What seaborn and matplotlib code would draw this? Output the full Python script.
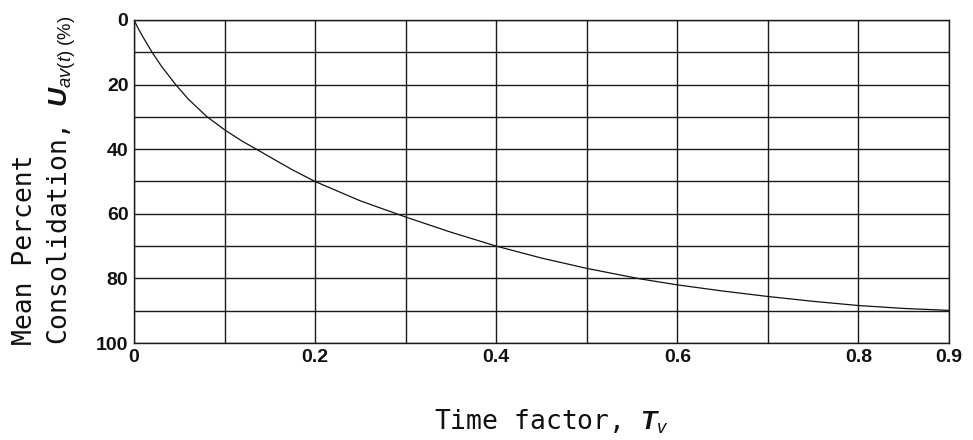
import matplotlib
matplotlib.use("Agg")
import matplotlib.pyplot as plt
import seaborn as sns
import pandas as pd

# Mean percent consolidation curve (time factor vs. U)
time_factor = [0.0, 0.005, 0.01, 0.02, 0.03, 0.046, 0.06, 0.08, 0.1, 0.12, 0.137,
               0.15, 0.175, 0.2, 0.25, 0.3, 0.35, 0.4, 0.45, 0.5, 0.56, 0.6,
               0.65, 0.7, 0.75, 0.8, 0.85, 0.9]
consolidation = [0.0, 2.8, 5.3, 10.0, 14.2, 20.0, 24.5, 29.8, 34.0, 37.6, 40.3,
                 42.4, 46.4, 50.0, 56.0, 61.0, 65.7, 70.0, 73.7, 76.9, 80.2, 82.0,
                 83.9, 85.6, 87.1, 88.4, 89.3, 89.9]

x_grid = [0.0, 0.1, 0.2, 0.3, 0.4, 0.5, 0.6, 0.7, 0.8, 0.9]
x_labels = ["0", "", "0.2", "", "0.4", "", "0.6", "", "0.8", "0.9"]
y_grid = [0, 10, 20, 30, 40, 50, 60, 70, 80, 90, 100]
y_labels = ["0", "", "20", "", "40", "", "60", "", "80", "", "100"]

sns.set_theme(style="white")
plt.rcParams["font.family"] = ["Liberation Sans", "DejaVu Sans"]
plt.rcParams["mathtext.fontset"] = "custom"
plt.rcParams["mathtext.rm"] = "Liberation Sans"
plt.rcParams["mathtext.it"] = "Liberation Sans:italic"
plt.rcParams["mathtext.bf"] = "Liberation Sans:bold:italic"

df = pd.DataFrame({"Tv": time_factor, "U": consolidation})

fig = plt.figure(figsize=(9.73, 4.4), dpi=100)
ax = fig.add_axes([134 / 973, 1 - 343 / 440, (949 - 134) / 973, (343 - 20) / 440])

sns.lineplot(data=df, x="Tv", y="U", ax=ax, color="#111111", linewidth=0.9,
             sort=False, estimator=None)

ax.set_xlim(0, 0.9)
ax.set_ylim(100, 0)
ax.set_xticks(x_grid)
ax.set_xticklabels(x_labels)
ax.set_yticks(y_grid)
ax.set_yticklabels(y_labels)
ax.grid(True, color="#1a1a1a", linewidth=1.0)
ax.set_axisbelow(True)
for sp in ax.spines.values():
    sp.set_visible(True)
    sp.set_color("#1a1a1a")
    sp.set_linewidth(1.0)
ax.tick_params(axis="both", length=0, labelsize=14, colors="#111111")
ax.tick_params(axis="y", pad=4)
ax.tick_params(axis="x", pad=4)
for lab in ax.get_xticklabels() + ax.get_yticklabels():
    lab.set_fontweight("bold")
    lab.set_family("Liberation Sans")
ax.set_xlabel("")
ax.set_ylabel("")

mono = "DejaVu Sans Mono"
fig.text(551 / 973, 1 - 422 / 440, r"Time factor, $\mathbf{T}_{\mathit{v}}$",
         ha="center", va="center", family=mono, fontsize=19, color="#111111")
fig.text(25 / 973, 1 - 345 / 440, "Mean Percent", rotation=90,
         ha="center", va="bottom", family=mono, fontsize=19, color="#111111")
fig.text(62 / 973, 1 - 345 / 440,
         r"Consolidation, $\mathbf{U}_{\mathit{av(t)\ (\%)}}$", rotation=90,
         ha="center", va="bottom", family=mono, fontsize=19, color="#111111")

fig.savefig("out.png", dpi=100, facecolor="white")
